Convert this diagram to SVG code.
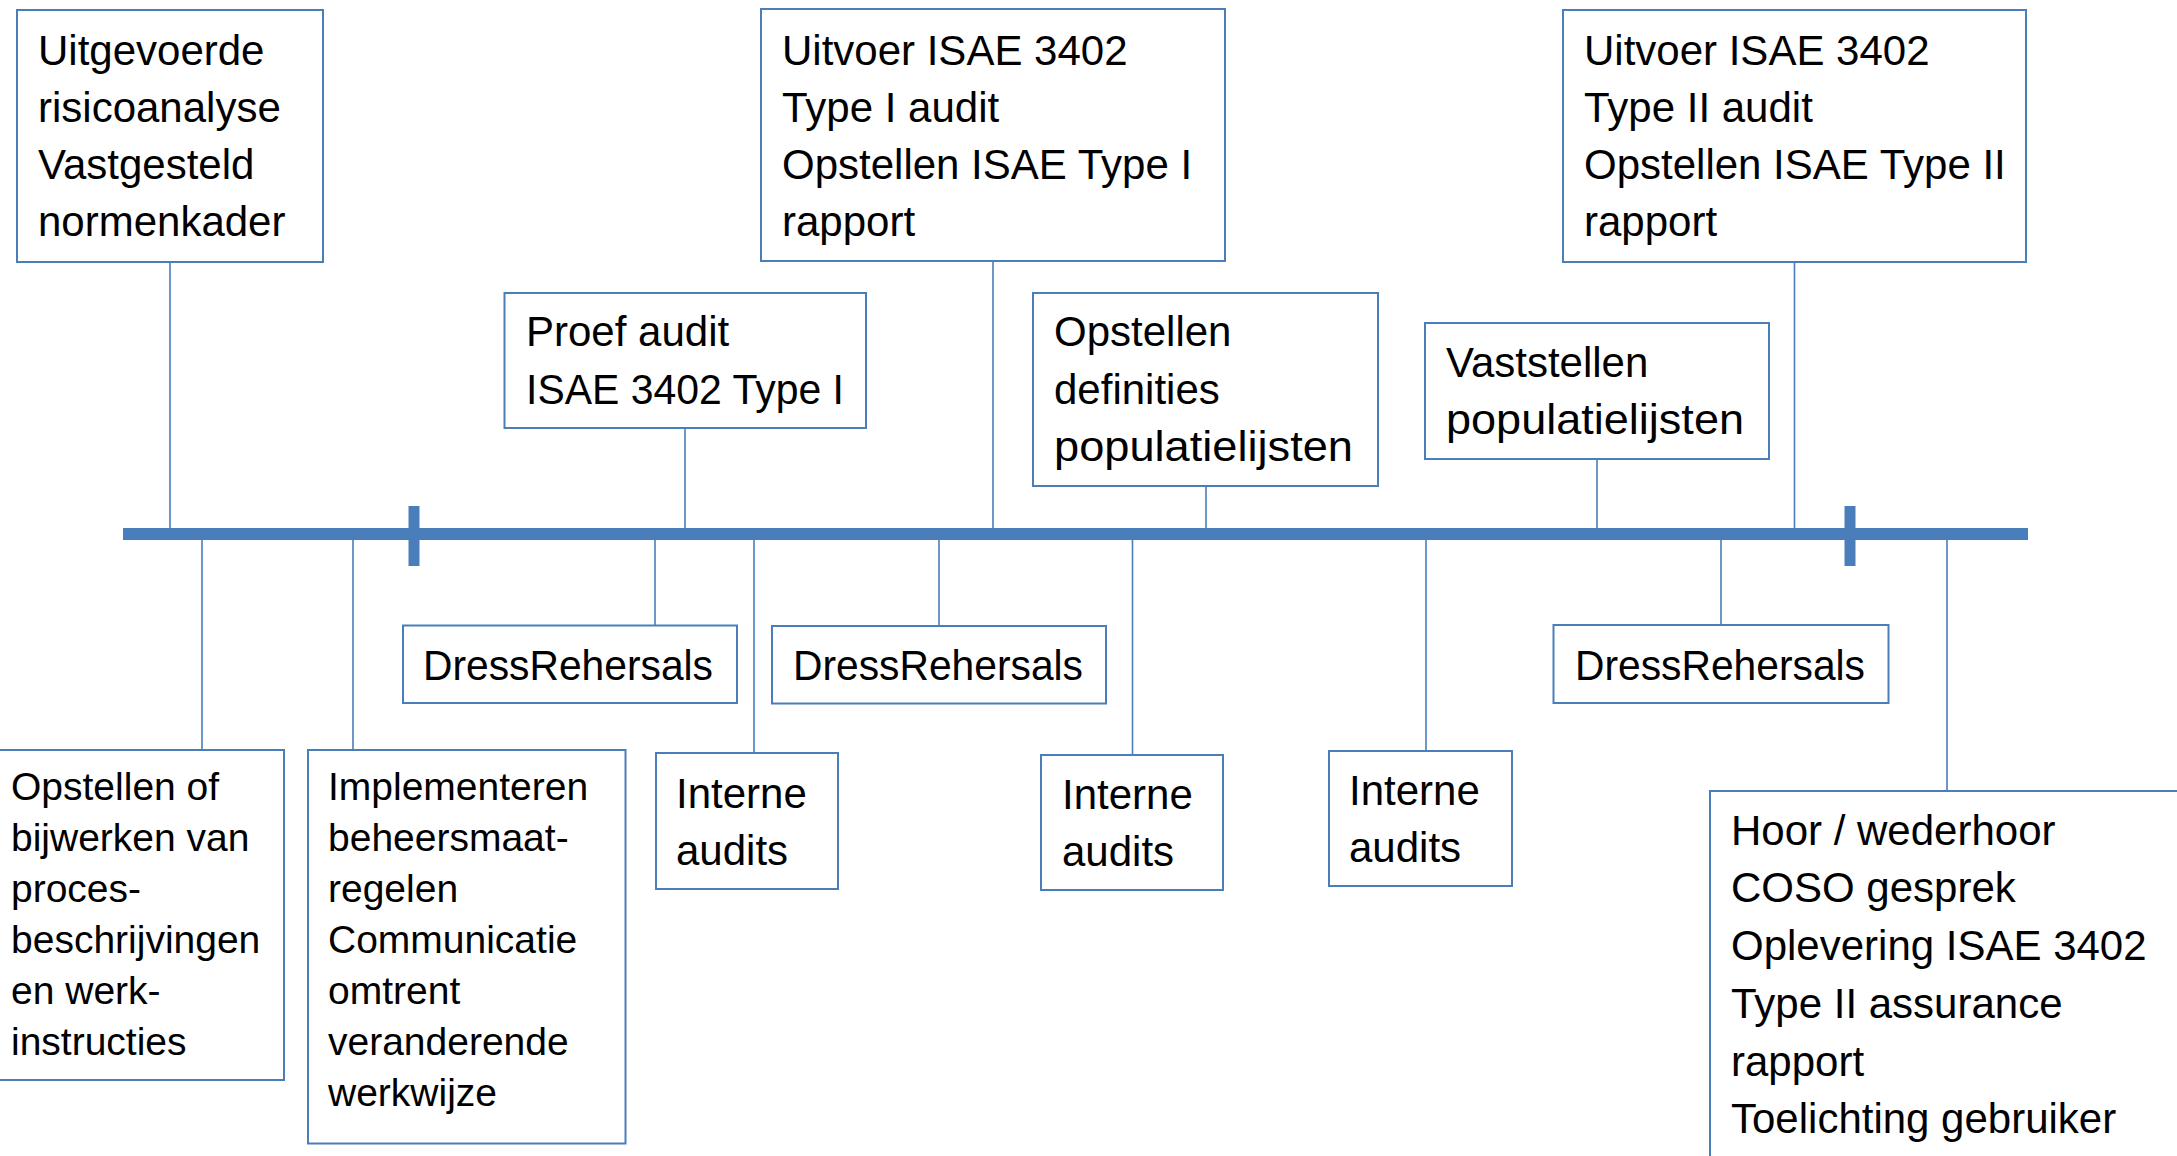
<svg xmlns="http://www.w3.org/2000/svg" width="2177" height="1156" viewBox="0 0 2177 1156">
<style>
.box{fill:#fff;stroke:#4a7ebb;stroke-width:2}
.t{font-family:"Liberation Sans",Arial,sans-serif;font-size:42px;fill:#000}
.s{font-family:"Liberation Sans",Arial,sans-serif;font-size:39px;fill:#000}
.c{stroke:#4a7ebb;stroke-width:1.6;fill:none}
</style>
<rect width="2177" height="1156" fill="#fff"/>
<g id="connectors">
<line class="c" x1="170" y1="262" x2="170" y2="530"/>
<line class="c" x1="685" y1="428" x2="685" y2="530"/>
<line class="c" x1="993" y1="261" x2="993" y2="530"/>
<line class="c" x1="1206" y1="486" x2="1206" y2="530"/>
<line class="c" x1="1597" y1="459" x2="1597" y2="530"/>
<line class="c" x1="1794.5" y1="262" x2="1794.5" y2="530"/>
<line class="c" x1="202" y1="538" x2="202" y2="750"/>
<line class="c" x1="353" y1="538" x2="353" y2="750"/>
<line class="c" x1="655" y1="538" x2="655" y2="625.5"/>
<line class="c" x1="754" y1="538" x2="754" y2="753"/>
<line class="c" x1="939" y1="538" x2="939" y2="626"/>
<line class="c" x1="1132.5" y1="538" x2="1132.5" y2="755"/>
<line class="c" x1="1426" y1="538" x2="1426" y2="751"/>
<line class="c" x1="1721" y1="538" x2="1721" y2="625"/>
<line class="c" x1="1947" y1="538" x2="1947" y2="791"/>
</g>
<g id="timeline">
<rect x="123" y="528" width="1905" height="12" fill="#4a7ebb"/>
<rect x="408.5" y="506" width="11" height="60" fill="#4a7ebb"/>
<rect x="1844.5" y="506" width="11" height="60" fill="#4a7ebb"/>
</g>
<g id="n-risico">
<rect class="box" x="17" y="10" width="306" height="252"/>
<text class="t" x="38" y="64.5">Uitgevoerde</text>
<text class="t" x="38" y="121.5">risicoanalyse</text>
<text class="t" x="38" y="178.5">Vastgesteld</text>
<text class="t" x="38" y="235.5">normenkader</text>
</g>
<g id="n-uitvoer1">
<rect class="box" x="761" y="9" width="464" height="252"/>
<text class="t" x="782" y="64.5">Uitvoer ISAE 3402</text>
<text class="t" x="782" y="121.5">Type I audit</text>
<text class="t" x="782" y="178.5">Opstellen ISAE Type I</text>
<text class="t" x="782" y="235.5">rapport</text>
</g>
<g id="n-uitvoer2">
<rect class="box" x="1563" y="10" width="463" height="252"/>
<text class="t" x="1584" y="64.5">Uitvoer ISAE 3402</text>
<text class="t" x="1584" y="121.5">Type II audit</text>
<text class="t" x="1584" y="178.5">Opstellen ISAE Type II</text>
<text class="t" x="1584" y="235.5">rapport</text>
</g>
<g id="n-proef">
<rect class="box" x="504.5" y="293" width="361.5" height="135"/>
<text class="t" x="526" y="346">Proef audit</text>
<text class="t" x="526" y="404" textLength="318" lengthAdjust="spacingAndGlyphs">ISAE 3402 Type I</text>
</g>
<g id="n-definities">
<rect class="box" x="1033" y="293" width="345" height="193"/>
<text class="t" x="1054" y="346">Opstellen</text>
<text class="t" x="1054" y="404">definities</text>
<text class="t" x="1054" y="461" textLength="299" lengthAdjust="spacingAndGlyphs">populatielijsten</text>
</g>
<g id="n-vaststellen">
<rect class="box" x="1425" y="323" width="344" height="136"/>
<text class="t" x="1446" y="377">Vaststellen</text>
<text class="t" x="1446" y="434" textLength="298" lengthAdjust="spacingAndGlyphs">populatielijsten</text>
</g>
<g id="n-dress1">
<rect class="box" x="403" y="625.5" width="334" height="77.5"/>
<text class="t" x="423" y="679.5" textLength="290" lengthAdjust="spacingAndGlyphs">DressRehersals</text>
</g>
<g id="n-dress2">
<rect class="box" x="772" y="626" width="334" height="77.5"/>
<text class="t" x="793" y="680" textLength="290" lengthAdjust="spacingAndGlyphs">DressRehersals</text>
</g>
<g id="n-dress3">
<rect class="box" x="1553.5" y="625" width="335" height="78"/>
<text class="t" x="1575" y="679.5" textLength="290" lengthAdjust="spacingAndGlyphs">DressRehersals</text>
</g>
<g id="n-interne1">
<rect class="box" x="656" y="753" width="182" height="136"/>
<text class="t" x="676" y="808">Interne</text>
<text class="t" x="676" y="865">audits</text>
</g>
<g id="n-interne2">
<rect class="box" x="1041" y="755" width="182" height="135"/>
<text class="t" x="1062" y="809">Interne</text>
<text class="t" x="1062" y="866">audits</text>
</g>
<g id="n-interne3">
<rect class="box" x="1329" y="751" width="183" height="135"/>
<text class="t" x="1349" y="805">Interne</text>
<text class="t" x="1349" y="862">audits</text>
</g>
<g id="n-opstellen">
<rect class="box" x="-1" y="750" width="285" height="330"/>
<text class="s" x="11" y="800">Opstellen of</text>
<text class="s" x="11" y="851">bijwerken van</text>
<text class="s" x="11" y="902">proces-</text>
<text class="s" x="11" y="953">beschrijvingen</text>
<text class="s" x="11" y="1004">en werk-</text>
<text class="s" x="11" y="1055">instructies</text>
</g>
<g id="n-implementeren">
<rect class="box" x="308" y="750" width="317.5" height="393.5"/>
<text class="s" x="328" y="800">Implementeren</text>
<text class="s" x="328" y="851">beheersmaat-</text>
<text class="s" x="328" y="902">regelen</text>
<text class="s" x="328" y="953">Communicatie</text>
<text class="s" x="328" y="1004">omtrent</text>
<text class="s" x="328" y="1055">veranderende</text>
<text class="s" x="328" y="1106">werkwijze</text>
</g>
<g id="n-hoor">
<rect class="box" x="1710" y="791" width="500" height="400"/>
<text class="t" x="1731" y="844.5">Hoor / wederhoor</text>
<text class="t" x="1731" y="902">COSO gesprek</text>
<text class="t" x="1731" y="960">Oplevering ISAE 3402</text>
<text class="t" x="1731" y="1018">Type II assurance</text>
<text class="t" x="1731" y="1076">rapport</text>
<text class="t" x="1731" y="1133">Toelichting gebruiker</text>
</g>
</svg>
